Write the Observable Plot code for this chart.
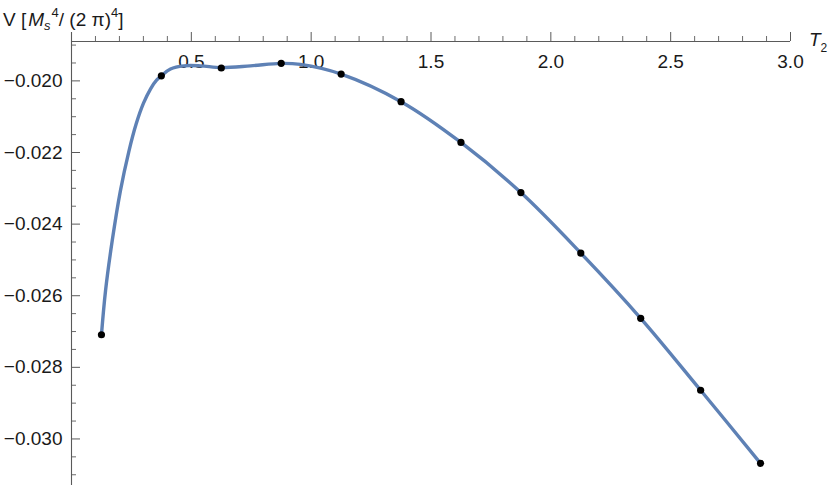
<!DOCTYPE html>
<html>
<head>
<meta charset="utf-8">
<script src="https://cdn.jsdelivr.net/npm/d3@7"></script>
<script src="https://cdn.jsdelivr.net/npm/@observablehq/plot@0.6"></script>
<style>
  html, body { margin: 0; padding: 0; background: #fff; }
  svg { display: block; }
</style>
</head>
<body>
<div id="chart"></div>
<script>
// ---- data ----
const dotT = [0.125, 0.375, 0.625, 0.875, 1.125, 1.375, 1.625, 1.875, 2.125, 2.375, 2.625, 2.875];
const dotV = [-0.02709, -0.01986, -0.01964, -0.01951, -0.01981, -0.02058, -0.02172, -0.02312, -0.02481, -0.02663, -0.02864, -0.03068];

const curveT = [0.125, 0.142, 0.170, 0.204, 0.239, 0.270, 0.300, 0.330, 0.355, 0.375, 0.413, 0.468, 0.538, 0.625, 0.747, 0.875, 0.955, 1.125, 1.375, 1.625, 1.875, 2.125, 2.375, 2.625, 2.875];
const curveV = [-0.02709, -0.02586, -0.02446, -0.02307, -0.02198, -0.02120, -0.02063, -0.02022, -0.01998, -0.01986, -0.01967, -0.01958, -0.01958, -0.01963, -0.01958, -0.01951, -0.01954, -0.01981, -0.02058, -0.02172, -0.02312, -0.02481, -0.02663, -0.02864, -0.03068];

const xMajor = [0.5, 1.0, 1.5, 2.0, 2.5, 3.0];
const xMajorLabels = ["0.5", "1.0", "1.5", "2.0", "2.5", "3.0"];
const xMinor = [0.1, 0.2, 0.3, 0.4, 0.6, 0.7, 0.8, 0.9, 1.1, 1.2, 1.3, 1.4, 1.6, 1.7, 1.8, 1.9, 2.1, 2.2, 2.3, 2.4, 2.6, 2.7, 2.8, 2.9];
const yMajor = [-0.020, -0.022, -0.024, -0.026, -0.028, -0.030];
const yMajorLabels = ["\u22120.020", "\u22120.022", "\u22120.024", "\u22120.026", "\u22120.028", "\u22120.030"];
const yMinor = [-0.019, -0.0195, -0.0205, -0.021, -0.0215, -0.0225, -0.023, -0.0235, -0.0245, -0.025, -0.0255, -0.0265, -0.027, -0.0275, -0.0285, -0.029, -0.0295, -0.0305, -0.031];

const axisV = -0.0189;   // where the T2 axis crosses
const xDomain = [0, 3];
const yDomain = [-0.0313, -0.0189];

// ---- layout ----
const W = 830, H = 487;
const mL = 71, mR = 40, mT = 41, mB = 2;
const pxX = (xDomain[1] - xDomain[0]) / (W - mL - mR);
const pxY = (yDomain[1] - yDomain[0]) / (H - mT - mB);
const majorLen = 9, minorLen = 5;
const axisColor = "#5a5a5a";
const textColor = "#1a1a1a";
const font = "'Liberation Sans', Arial, Helvetica, sans-serif";
const fs = 19;

const curve = curveT.map((t, i) => ({t, v: curveV[i]}));
const dots = dotT.map((t, i) => ({t, v: dotV[i]}));
const xLab = xMajor.map((t, i) => ({t, s: xMajorLabels[i]}));
const yLab = yMajor.map((v, i) => ({v, s: yMajorLabels[i]}));

const chart = Plot.plot({
  width: W, height: H,
  marginLeft: mL, marginRight: mR, marginTop: mT, marginBottom: mB,
  style: {fontFamily: font, background: "#fff", overflow: "visible"},
  x: {domain: xDomain, axis: null},
  y: {domain: yDomain, axis: null},
  marks: [
    // axes lines
    Plot.ruleY([axisV], {x1: 0, x2: 3, stroke: axisColor, strokeWidth: 1.1}),
    Plot.ruleX([0], {y1: yDomain[0], y2: axisV + majorLen * pxY, stroke: axisColor, strokeWidth: 1.1}),
    // x ticks (upwards)
    Plot.ruleX(xMajor, {x: d => d, y1: axisV, y2: axisV + majorLen * pxY, stroke: axisColor, strokeWidth: 1}),
    Plot.ruleX(xMinor, {x: d => d, y1: axisV, y2: axisV + minorLen * pxY, stroke: axisColor, strokeWidth: 0.9}),
    // y ticks (rightwards)
    Plot.ruleY(yMajor, {y: d => d, x1: 0, x2: majorLen * pxX, stroke: axisColor, strokeWidth: 1}),
    Plot.ruleY(yMinor, {y: d => d, x1: 0, x2: minorLen * pxX, stroke: axisColor, strokeWidth: 0.9}),
    // tick labels
    Plot.text(xLab, {x: "t", y: () => axisV, text: "s", dy: 20, fontSize: fs, fill: textColor, textAnchor: "middle"}),
    Plot.text(yLab, {x: () => 0, y: "v", text: "s", dx: -9, fontSize: fs, fill: textColor, textAnchor: "end"}),
    // data
    Plot.line(curve, {x: "t", y: "v", stroke: "#5E81B5", strokeWidth: 3.4, curve: "catmull-rom"}),
    Plot.dot(dots, {x: "t", y: "v", r: 3.6, fill: "#000", stroke: "none"})
  ]
});

document.getElementById("chart").appendChild(chart);

// axis labels with sub/superscripts
const svg = d3.select(chart);
const yl = svg.append("text")
  .attr("x", 3).attr("y", 26).attr("text-anchor", "start")
  .attr("font-family", font).attr("font-size", fs).attr("fill", textColor);
yl.append("tspan").text("V [");
yl.append("tspan").attr("font-style", "italic").attr("dx", 2).text("M");
yl.append("tspan").attr("font-style", "italic").attr("font-size", 13).attr("dy", 4).text("s");
yl.append("tspan").attr("font-size", 13).attr("dy", -13).attr("dx", 1).text("4");
yl.append("tspan").attr("dy", 9).text("/ (2 \u03C0)");
yl.append("tspan").attr("font-size", 13).attr("dy", -9).text("4");
yl.append("tspan").attr("dy", 9).text("]");

const xl = svg.append("text")
  .attr("x", 809).attr("y", 46).attr("text-anchor", "start")
  .attr("font-family", font).attr("font-size", fs).attr("fill", textColor);
xl.append("tspan").attr("font-style", "italic").text("T");
xl.append("tspan").attr("font-size", 12).attr("dy", 6).attr("dx", 0).text("2");
</script>
</body>
</html>
